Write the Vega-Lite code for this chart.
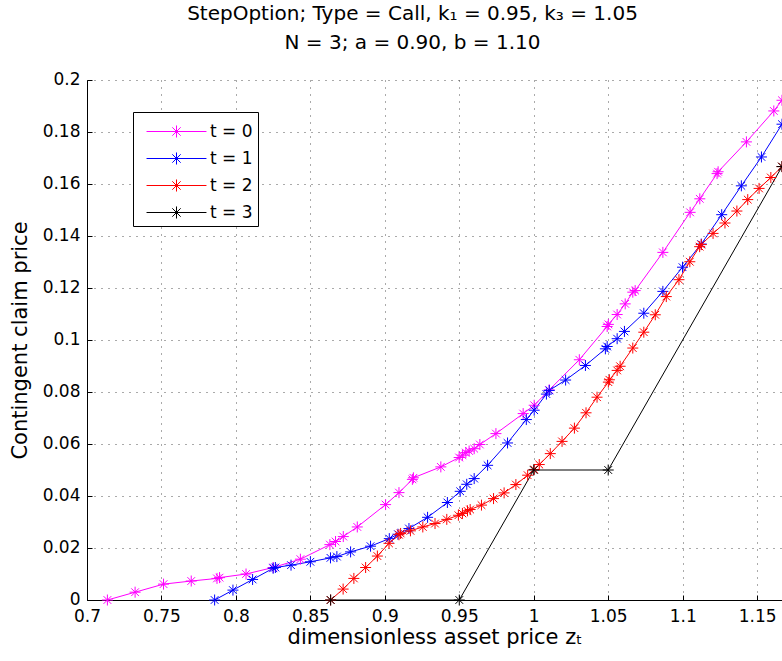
{
  "$schema": "https://vega.github.io/schema/vega-lite/v6.json",
  "width": 695,
  "height": 520,
  "autosize": {"type": "none"},
  "padding": {"left": 87, "top": 80, "right": 0, "bottom": 61},
  "background": "white",
  "title": {
    "text": ["StepOption; Type = Call, k₁ = 0.95, k₃ = 1.05", "N = 3; a = 0.90, b = 1.10"],
    "font": "DejaVu Sans",
    "fontSize": 20,
    "fontWeight": "normal",
    "color": "black",
    "lineHeight": 29,
    "anchor": "middle",
    "dx": -22,
    "offset": 17
  },
  "datasets": {
    "curves": [
      {"t": "t = 0", "z": 0.7137, "v": 0},
      {"t": "t = 0", "z": 0.7323, "v": 0.0030},
      {"t": "t = 0", "z": 0.7514, "v": 0.0061},
      {"t": "t = 0", "z": 0.7700, "v": 0.0073},
      {"t": "t = 0", "z": 0.7873, "v": 0.0083},
      {"t": "t = 0", "z": 0.7890, "v": 0.0086},
      {"t": "t = 0", "z": 0.8068, "v": 0.0100},
      {"t": "t = 0", "z": 0.8250, "v": 0.0125},
      {"t": "t = 0", "z": 0.8433, "v": 0.0157},
      {"t": "t = 0", "z": 0.8631, "v": 0.0213},
      {"t": "t = 0", "z": 0.8669, "v": 0.0225},
      {"t": "t = 0", "z": 0.8721, "v": 0.0244},
      {"t": "t = 0", "z": 0.8815, "v": 0.0281},
      {"t": "t = 0", "z": 0.9005, "v": 0.0367},
      {"t": "t = 0", "z": 0.9095, "v": 0.0413},
      {"t": "t = 0", "z": 0.9185, "v": 0.0464},
      {"t": "t = 0", "z": 0.9192, "v": 0.0470},
      {"t": "t = 0", "z": 0.9376, "v": 0.0512},
      {"t": "t = 0", "z": 0.9499, "v": 0.0548},
      {"t": "t = 0", "z": 0.9521, "v": 0.0557},
      {"t": "t = 0", "z": 0.9544, "v": 0.0567},
      {"t": "t = 0", "z": 0.9566, "v": 0.0573},
      {"t": "t = 0", "z": 0.9600, "v": 0.0582},
      {"t": "t = 0", "z": 0.9638, "v": 0.0598},
      {"t": "t = 0", "z": 0.9746, "v": 0.0640},
      {"t": "t = 0", "z": 0.9929, "v": 0.0717},
      {"t": "t = 0", "z": 1.0003, "v": 0.0749},
      {"t": "t = 0", "z": 1.0104, "v": 0.0808},
      {"t": "t = 0", "z": 1.0306, "v": 0.0924},
      {"t": "t = 0", "z": 1.0493, "v": 0.1052},
      {"t": "t = 0", "z": 1.0501, "v": 0.1060},
      {"t": "t = 0", "z": 1.0560, "v": 0.1098},
      {"t": "t = 0", "z": 1.0614, "v": 0.1139},
      {"t": "t = 0", "z": 1.0665, "v": 0.1184},
      {"t": "t = 0", "z": 1.0681, "v": 0.1190},
      {"t": "t = 0", "z": 1.0867, "v": 0.1337},
      {"t": "t = 0", "z": 1.1050, "v": 0.1491},
      {"t": "t = 0", "z": 1.1115, "v": 0.1543},
      {"t": "t = 0", "z": 1.1231, "v": 0.1640},
      {"t": "t = 0", "z": 1.1238, "v": 0.1647},
      {"t": "t = 0", "z": 1.1428, "v": 0.1762},
      {"t": "t = 0", "z": 1.1612, "v": 0.1881},
      {"t": "t = 0", "z": 1.1667, "v": 0.1922},
      {"t": "t = 1", "z": 0.7857, "v": 0},
      {"t": "t = 1", "z": 0.7980, "v": 0.0038},
      {"t": "t = 1", "z": 0.8112, "v": 0.0079},
      {"t": "t = 1", "z": 0.8250, "v": 0.0122},
      {"t": "t = 1", "z": 0.8265, "v": 0.0125},
      {"t": "t = 1", "z": 0.8370, "v": 0.0134},
      {"t": "t = 1", "z": 0.8500, "v": 0.0147},
      {"t": "t = 1", "z": 0.8635, "v": 0.0162},
      {"t": "t = 1", "z": 0.8678, "v": 0.0167},
      {"t": "t = 1", "z": 0.8770, "v": 0.0185},
      {"t": "t = 1", "z": 0.8904, "v": 0.0207},
      {"t": "t = 1", "z": 0.9030, "v": 0.0236},
      {"t": "t = 1", "z": 0.9088, "v": 0.0253},
      {"t": "t = 1", "z": 0.9162, "v": 0.0275},
      {"t": "t = 1", "z": 0.9287, "v": 0.0318},
      {"t": "t = 1", "z": 0.9420, "v": 0.0375},
      {"t": "t = 1", "z": 0.9506, "v": 0.0418},
      {"t": "t = 1", "z": 0.9550, "v": 0.0445},
      {"t": "t = 1", "z": 0.9600, "v": 0.0467},
      {"t": "t = 1", "z": 0.9690, "v": 0.0518},
      {"t": "t = 1", "z": 0.9824, "v": 0.0604},
      {"t": "t = 1", "z": 0.9950, "v": 0.0694},
      {"t": "t = 1", "z": 1.0003, "v": 0.0730},
      {"t": "t = 1", "z": 1.0085, "v": 0.0792},
      {"t": "t = 1", "z": 1.0104, "v": 0.0806},
      {"t": "t = 1", "z": 1.0214, "v": 0.0846},
      {"t": "t = 1", "z": 1.0347, "v": 0.0902},
      {"t": "t = 1", "z": 1.0481, "v": 0.0966},
      {"t": "t = 1", "z": 1.0493, "v": 0.0975},
      {"t": "t = 1", "z": 1.0560, "v": 0.1005},
      {"t": "t = 1", "z": 1.0609, "v": 0.1033},
      {"t": "t = 1", "z": 1.0739, "v": 0.1103},
      {"t": "t = 1", "z": 1.0867, "v": 0.1187},
      {"t": "t = 1", "z": 1.0999, "v": 0.1280},
      {"t": "t = 1", "z": 1.1125, "v": 0.1369},
      {"t": "t = 1", "z": 1.1262, "v": 0.1482},
      {"t": "t = 1", "z": 1.1394, "v": 0.1593},
      {"t": "t = 1", "z": 1.1529, "v": 0.1704},
      {"t": "t = 1", "z": 1.1667, "v": 0.1830},
      {"t": "t = 2", "z": 0.8636, "v": 0},
      {"t": "t = 2", "z": 0.8720, "v": 0.0042},
      {"t": "t = 2", "z": 0.8792, "v": 0.0083},
      {"t": "t = 2", "z": 0.8871, "v": 0.0125},
      {"t": "t = 2", "z": 0.8950, "v": 0.0169},
      {"t": "t = 2", "z": 0.9028, "v": 0.0218},
      {"t": "t = 2", "z": 0.9095, "v": 0.0251},
      {"t": "t = 2", "z": 0.9106, "v": 0.0256},
      {"t": "t = 2", "z": 0.9172, "v": 0.0266},
      {"t": "t = 2", "z": 0.9255, "v": 0.0281},
      {"t": "t = 2", "z": 0.9337, "v": 0.0294},
      {"t": "t = 2", "z": 0.9416, "v": 0.0310},
      {"t": "t = 2", "z": 0.9494, "v": 0.0326},
      {"t": "t = 2", "z": 0.9521, "v": 0.0333},
      {"t": "t = 2", "z": 0.9555, "v": 0.0343},
      {"t": "t = 2", "z": 0.9573, "v": 0.0348},
      {"t": "t = 2", "z": 0.9649, "v": 0.0365},
      {"t": "t = 2", "z": 0.9730, "v": 0.0390},
      {"t": "t = 2", "z": 0.9801, "v": 0.0412},
      {"t": "t = 2", "z": 0.9880, "v": 0.0444},
      {"t": "t = 2", "z": 0.9959, "v": 0.0480},
      {"t": "t = 2", "z": 1.0003, "v": 0.0502},
      {"t": "t = 2", "z": 1.0037, "v": 0.0521},
      {"t": "t = 2", "z": 1.0111, "v": 0.0563},
      {"t": "t = 2", "z": 1.0190, "v": 0.0610},
      {"t": "t = 2", "z": 1.0273, "v": 0.0661},
      {"t": "t = 2", "z": 1.0351, "v": 0.0720},
      {"t": "t = 2", "z": 1.0425, "v": 0.0780},
      {"t": "t = 2", "z": 1.0501, "v": 0.0838},
      {"t": "t = 2", "z": 1.0508, "v": 0.0847},
      {"t": "t = 2", "z": 1.0560, "v": 0.0883},
      {"t": "t = 2", "z": 1.0580, "v": 0.0899},
      {"t": "t = 2", "z": 1.0665, "v": 0.0969},
      {"t": "t = 2", "z": 1.0739, "v": 0.1030},
      {"t": "t = 2", "z": 1.0816, "v": 0.1097},
      {"t": "t = 2", "z": 1.0890, "v": 0.1167},
      {"t": "t = 2", "z": 1.0975, "v": 0.1232},
      {"t": "t = 2", "z": 1.1048, "v": 0.1301},
      {"t": "t = 2", "z": 1.1114, "v": 0.1359},
      {"t": "t = 2", "z": 1.1125, "v": 0.1367},
      {"t": "t = 2", "z": 1.1204, "v": 0.1410},
      {"t": "t = 2", "z": 1.1284, "v": 0.1450},
      {"t": "t = 2", "z": 1.1364, "v": 0.1496},
      {"t": "t = 2", "z": 1.1437, "v": 0.1540},
      {"t": "t = 2", "z": 1.1513, "v": 0.1583},
      {"t": "t = 2", "z": 1.1592, "v": 0.1625},
      {"t": "t = 2", "z": 1.1667, "v": 0.1667},
      {"t": "t = 3", "z": 0.8636, "v": 0},
      {"t": "t = 3", "z": 0.9500, "v": 0},
      {"t": "t = 3", "z": 1.0000, "v": 0.05},
      {"t": "t = 3", "z": 1.0500, "v": 0.05},
      {"t": "t = 3", "z": 1.1667, "v": 0.1667}
    ]
  },
  "data": {"name": "curves"},
  "encoding": {
    "x": {
      "field": "z",
      "type": "quantitative",
      "scale": {"domain": [0.7, 1.1667], "nice": false, "zero": false},
      "axis": {
        "title": "dimensionless asset price zₜ",
        "values": [0.7, 0.75, 0.8, 0.85, 0.9, 0.95, 1, 1.05, 1.1, 1.15],
        "format": "~g",
        "labelPadding": 13,
        "titlePadding": 2
      }
    },
    "y": {
      "field": "v",
      "type": "quantitative",
      "scale": {"domain": [0, 0.2], "nice": false},
      "axis": {
        "title": "Contingent claim price",
        "values": [0, 0.02, 0.04, 0.06, 0.08, 0.1, 0.12, 0.14, 0.16, 0.18, 0.2],
        "format": "~g",
        "labelPadding": 12,
        "labelOffset": -1,
        "titlePadding": 12
      }
    },
    "color": {
      "field": "t",
      "type": "nominal",
      "scale": {
        "domain": ["t = 0", "t = 1", "t = 2", "t = 3"],
        "range": ["#ff00ff", "#0000ff", "#ff0000", "#000000"]
      },
      "legend": {
        "orient": "none",
        "legendX": 46,
        "legendY": 32,
        "title": null,
        "strokeColor": "black",
        "fillColor": "white",
        "padding": 5,
        "rowPadding": 4,
        "symbolType": "M-2.14,0L2.14,0M0,-0.43L0,0.43M-0.3,-0.3L0.3,0.3M-0.3,0.3L0.3,-0.3",
        "symbolSize": 784,
        "symbolStrokeWidth": 1,
        "symbolOffset": 24,
        "labelOffset": 19,
        "labelFontSize": 17,
        "labelFont": "DejaVu Sans",
        "labelColor": "black"
      }
    }
  },
  "layer": [
    {"mark": {"type": "line", "strokeWidth": 1}},
    {
      "mark": {
        "type": "point",
        "shape": "M-1,0L1,0M0,-1L0,1M-0.7,-0.7L0.7,0.7M-0.7,0.7L0.7,-0.7",
        "filled": false,
        "size": 121,
        "strokeWidth": 1,
        "opacity": 1
      }
    }
  ],
  "config": {
    "font": "DejaVu Sans",
    "view": {"stroke": null},
    "axis": {
      "labelFont": "DejaVu Sans",
      "labelFontSize": 17,
      "labelColor": "black",
      "titleFont": "DejaVu Sans",
      "titleFontSize": 21,
      "titleFontWeight": "normal",
      "titleColor": "black",
      "domainColor": "black",
      "domainWidth": 1,
      "tickColor": "black",
      "tickSize": -5,
      "grid": true,
      "gridColor": "#444444",
      "gridDash": [1, 6],
      "gridWidth": 1,
      "gridOpacity": 0.9,
      "labelFlush": false,
      "labelOverlap": false
    }
  }
}
